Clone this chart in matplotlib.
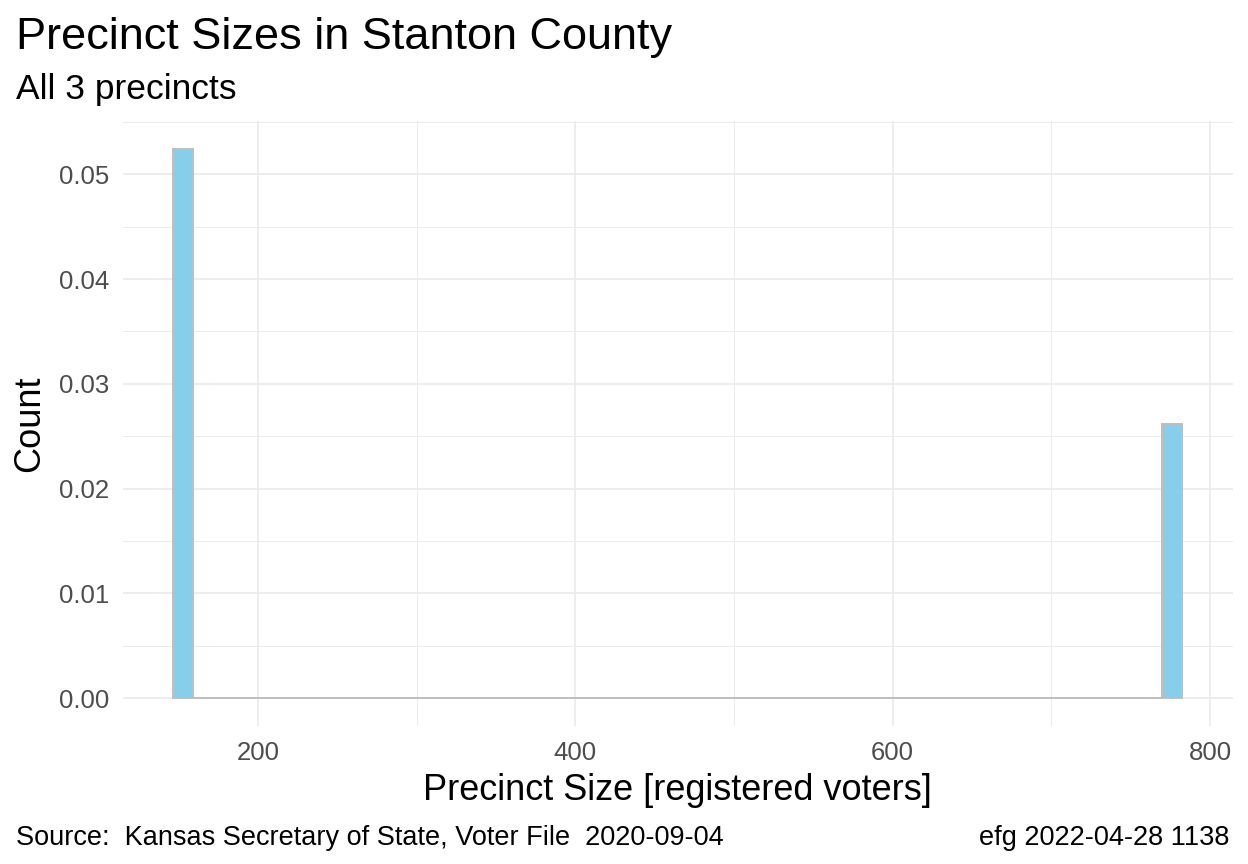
import numpy as np
import matplotlib
matplotlib.use("Agg")
import matplotlib.pyplot as plt
from matplotlib.ticker import MultipleLocator

# precinct sizes (registered voters)
precinct_sizes = [153, 157, 776]
n_bins = 50

title = "Precinct Sizes in Stanton County"
subtitle = "All 3 precincts"
caption_left = "Source:  Kansas Secretary of State, Voter File  2020-09-04"
caption_right = "efg 2022-04-28 1138"

plt.rcParams["font.family"] = ["Liberation Sans", "DejaVu Sans"]

fig = plt.figure(figsize=(12.48, 8.64), dpi=100)
ax = fig.add_axes([0.0983, 0.1600, 0.8894, 0.6996])

# ggplot-style bins: centred on the data min, width = range/(bins-1)
x = np.asarray(precinct_sizes, float)
w = (x.max() - x.min()) / (n_bins - 1)
edges = x.min() - w / 2 + w * np.arange(n_bins + 1)

counts, _, _ = ax.hist(x, bins=edges, density=True, color="#87CEEB",
                       edgecolor="#BEBEBE", linewidth=1.4, zorder=3)

# 5% expansion like ggplot
span = edges[-1] - edges[0]
ax.set_xlim(edges[0] - 0.05 * span, edges[-1] + 0.05 * span)
ymax = counts.max()
ax.set_ylim(-0.05 * ymax, 1.05 * ymax)

ax.xaxis.set_major_locator(MultipleLocator(200))
ax.xaxis.set_minor_locator(MultipleLocator(100))
ax.yaxis.set_major_locator(MultipleLocator(0.01))
ax.yaxis.set_minor_locator(MultipleLocator(0.005))
ax.yaxis.set_major_formatter(matplotlib.ticker.FormatStrFormatter("%.2f"))

ax.grid(which="major", color="#EBEBEB", linewidth=1.25, zorder=0)
ax.grid(which="minor", color="#EBEBEB", linewidth=0.7, zorder=0)
ax.set_axisbelow(True)
for s in ax.spines.values():
    s.set_visible(False)
ax.tick_params(which="both", length=0)
ax.tick_params(axis="x", labelsize=18.5, labelcolor="#4D4D4D", pad=11)
ax.tick_params(axis="y", labelsize=18.5, labelcolor="#4D4D4D", pad=10)

ax.set_xlabel("Precinct Size [registered voters]", fontsize=26, labelpad=6)
ax.set_ylabel("Count", fontsize=26, labelpad=8)

fig.text(16 / 1248, 1 - 48.5 / 864, title, fontsize=32.5, va="baseline", ha="left")
fig.text(16 / 1248, 1 - 99.5 / 864, subtitle, fontsize=25.5, va="baseline", ha="left")
fig.text(16 / 1248, 1 - 845 / 864, caption_left, fontsize=19.5, va="baseline", ha="left")
fig.text(1229.5 / 1248, 1 - 845 / 864, caption_right, fontsize=19.5, va="baseline", ha="right")

fig.savefig("out.png", dpi=100)
